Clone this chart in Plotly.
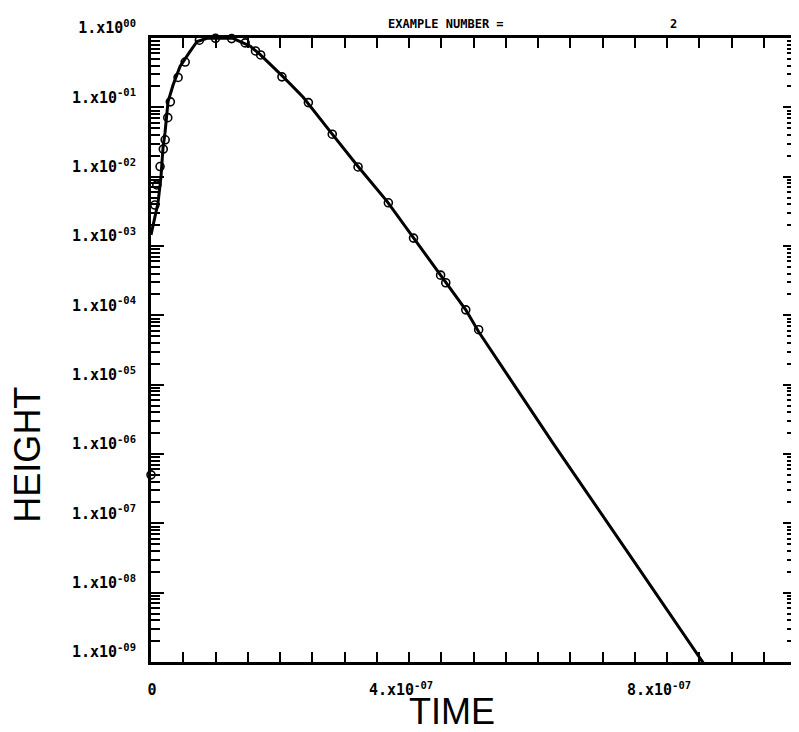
import plotly.graph_objects as go

# ---- data ----
fit_time = [0.0, 6.2e-9, 1.09e-8, 1.55e-8, 1.71e-8, 1.86e-8, 2.17e-8, 2.48e-8, 2.64e-8,
            3.42e-8, 4.50e-8, 6.06e-8, 7.14e-8, 8.70e-8, 1.04e-7, 1.27e-7, 1.54e-7,
            1.69e-7, 2.05e-7, 2.36e-7, 2.81e-7, 3.21e-7, 3.66e-7, 4.07e-7, 4.49e-7,
            4.88e-7, 5.08e-7, 6.24e-7, 7.48e-7, 8.56e-7, 8.70e-7]
fit_height = [1.45e-3, 2.8e-3, 4.2e-3, 1.0e-2, 1.7e-2, 2.6e-2, 4.3e-2, 7.4e-2, 1.2e-1,
              2.1e-1, 3.9e-1, 6.4e-1, 8.9e-1, 9.9e-1, 9.95e-1, 9.9e-1, 7.6e-1,
              5.8e-1, 2.75e-1, 1.4e-1, 4.1e-2, 1.4e-2, 4.4e-3, 1.3e-3, 3.8e-4,
              1.2e-4, 5.8e-5, 1.4e-6, 2.9e-8, 9.8e-10, 6.3e-10]

obs_time = [0.0, 6e-9, 9e-9, 1.4e-8, 1.9e-8, 2.2e-8, 2.6e-8, 3.0e-8, 4.2e-8, 5.3e-8,
            7.5e-8, 1.00e-7, 1.25e-7, 1.46e-7, 1.62e-7, 1.70e-7, 2.03e-7, 2.44e-7,
            2.81e-7, 3.21e-7, 3.68e-7, 4.07e-7, 4.49e-7, 4.57e-7, 4.88e-7, 5.08e-7]
obs_height = [5e-7, 3.9e-3, 7.6e-3, 1.4e-2, 2.5e-2, 3.4e-2, 7.1e-2, 1.2e-1, 2.7e-1, 4.5e-1,
              0.93, 0.99, 0.98, 0.85, 0.65, 0.57, 0.275, 0.117,
              4.1e-2, 1.38e-2, 4.2e-3, 1.3e-3, 3.8e-4, 2.95e-4, 1.2e-4, 6.2e-5]

x_tick_vals = [i * 0.5e-7 for i in range(21)]
x_tick_text = ["\u00a0\u00a00", "", "", "", "", "", "", "", "4.x10<sup>-07</sup>", "", "", "", "", "", "", "",
               "8.x10<sup>-07</sup>", "", "", "", ""]
y_tick_vals = [1e0, 1e-1, 1e-2, 1e-3, 1e-4, 1e-5, 1e-6, 1e-7, 1e-8, 1e-9]
y_tick_text = ["1.x10<sup>00</sup>", "1.x10<sup>-01</sup>", "1.x10<sup>-02</sup>",
               "1.x10<sup>-03</sup>", "1.x10<sup>-04</sup>", "1.x10<sup>-05</sup>",
               "1.x10<sup>-06</sup>", "1.x10<sup>-07</sup>", "1.x10<sup>-08</sup>",
               "1.x10<sup>-09</sup>"]
minor_mantissas = [2, 3, 4, 5, 6, 7, 8, 9]
y_minor_vals = [m * d for d in y_tick_vals[1:] for m in minor_mantissas]

x_title = "TIME"
y_title = "HEIGHT"
plot_title = "EXAMPLE NUMBER ="
example_no = "2"

tick_font = dict(family="DejaVu Sans Mono", size=15, color="black", weight="bold")
title_font = dict(family="Liberation Sans, Arial, sans-serif", size=36, color="black")

fig = go.Figure()
fig.add_trace(go.Scatter(x=fit_time, y=fit_height, mode="lines",
                         line=dict(color="black", width=3), showlegend=False))
fig.add_trace(go.Scatter(x=obs_time, y=obs_height, mode="markers", cliponaxis=False,
                         marker=dict(symbol="circle-open", size=8, color="black",
                                     line=dict(width=1.6, color="black")),
                         showlegend=False))

fig.update_xaxes(range=[0, 1.0e-6], tickmode="array", tickvals=x_tick_vals, ticktext=x_tick_text,
                 ticks="inside", ticklen=10, tickwidth=2, tickcolor="black",
                 showline=True, linewidth=3, linecolor="black", mirror="ticks",
                 showgrid=False, zeroline=False, tickfont=tick_font, automargin=False,
                 ticklabelstandoff=12, ticklabelshift=-8)
fig.update_yaxes(type="log", range=[-9, 0], tickmode="array", tickvals=y_tick_vals, ticktext=y_tick_text,
                 ticks="inside", ticklen=13, tickwidth=2, tickcolor="black",
                 minor=dict(tickmode="array", tickvals=y_minor_vals, ticks="inside", ticklen=9,
                            tickwidth=2, tickcolor="black", showgrid=False),
                 showline=True, linewidth=3, linecolor="black", mirror="ticks",
                 showgrid=False, zeroline=False, tickfont=tick_font, automargin=False,
                 ticklabelstandoff=9, ticklabelshift=-10)

fig.add_annotation(text=x_title, xref="paper", yref="paper", x=0.467, y=-0.080,
                   xanchor="center", yanchor="middle", showarrow=False, font=title_font)
fig.add_annotation(text=y_title, xref="paper", yref="paper", x=-0.191, y=0.332, textangle=-90,
                   xanchor="center", yanchor="middle", showarrow=False, font=title_font)
fig.add_annotation(text=plot_title, xref="paper", yref="paper", x=0.364, y=1.022,
                   xanchor="left", yanchor="middle", showarrow=False,
                   font=dict(family="DejaVu Sans Mono", size=12, color="black", weight="bold"))
fig.add_annotation(text=example_no, xref="paper", yref="paper", x=0.81, y=1.022,
                   xanchor="center", yanchor="middle", showarrow=False,
                   font=dict(family="DejaVu Sans Mono", size=12, color="black", weight="bold"))

# page body adds an 8px margin, so the figure is sized/placed to compensate
fig.update_layout(width=791, height=724, margin=dict(l=143, r=3, t=30, b=70, autoexpand=False),
                  paper_bgcolor="white", plot_bgcolor="white")

fig.write_html("out.html")
